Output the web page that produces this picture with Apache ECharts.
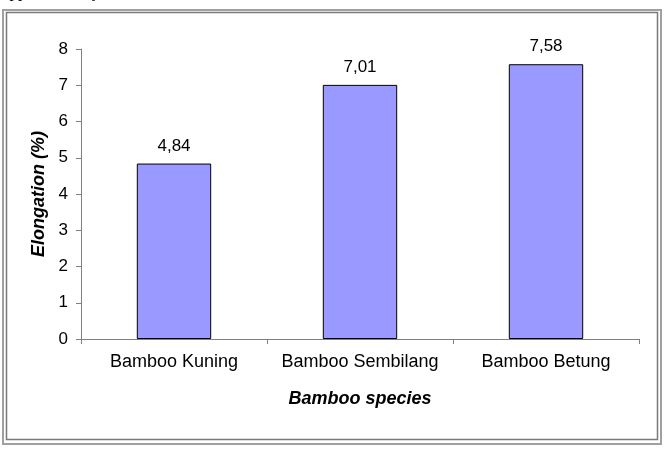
<!DOCTYPE html>
<html>
<head>
<meta charset="utf-8">
<script src="https://cdn.jsdelivr.net/npm/echarts@6/dist/echarts.min.js"></script>
<style>
html,body{margin:0;padding:0;background:#fff;}
#c{width:664px;height:450px;}
</style>
</head>
<body>
<div id="c"></div>
<script>
var categories = ['Bamboo Kuning', 'Bamboo Sembilang', 'Bamboo Betung'];
var elongation = [4.84, 7.01, 7.58];
var yTicks = [0, 1, 2, 3, 4, 5, 6, 7, 8];

var chart = echarts.init(document.getElementById('c'), null, {renderer: 'canvas'});
var font = 'Arial, "Liberation Sans", sans-serif';
chart.setOption({
  animation: false,
  backgroundColor: '#fff',
  grid: {left: 81, right: 25, top: 49, bottom: 111, containLabel: false},
  xAxis: {
    type: 'category',
    data: categories,
    name: 'Bamboo species',
    nameLocation: 'middle',
    nameGap: 51,
    nameTextStyle: {fontFamily: font, fontSize: 18, fontWeight: 'bold', fontStyle: 'italic', color: '#000'},
    axisLine: {lineStyle: {color: '#808080', width: 1}},
    axisTick: {show: true, length: 5, inside: false, alignWithLabel: false, lineStyle: {color: '#808080'}},
    axisLabel: {fontFamily: font, fontSize: 18, color: '#000', margin: 14, interval: 0},
    splitLine: {show: false}
  },
  yAxis: {
    type: 'value',
    min: yTicks[0],
    max: yTicks[yTicks.length - 1],
    interval: 1,
    name: 'Elongation (%)',
    nameLocation: 'middle',
    nameGap: 32,
    nameTextStyle: {fontFamily: font, fontSize: 18, fontWeight: 'bold', fontStyle: 'italic', color: '#000'},
    axisLine: {show: true, lineStyle: {color: '#808080', width: 1}},
    axisTick: {show: true, length: 5, lineStyle: {color: '#808080'}},
    axisLabel: {fontFamily: font, fontSize: 17, color: '#000', margin: 13},
    splitLine: {show: false}
  },
  series: [{
    type: 'bar',
    data: elongation,
    barCategoryGap: '60%',
    itemStyle: {color: '#9999ff', borderColor: '#000', borderWidth: 1},
    label: {
      show: true,
      position: 'top',
      distance: 9,
      fontFamily: font,
      fontSize: 17,
      color: '#000',
      formatter: function (p) { return p.value.toFixed(2).replace('.', ','); }
    }
  }],
  graphic: [
    {type: 'rect', shape: {x: 3, y: 10, width: 658, height: 434}, style: {fill: 'none', stroke: '#a0a0a0', lineWidth: 2}, silent: true},
    {type: 'rect', shape: {x: 6.5, y: 12.5, width: 651, height: 427}, style: {fill: 'none', stroke: '#7a7a7a', lineWidth: 1.5}, silent: true},
    {type: 'text', left: 2, top: -16, style: {text: 'approximately  4,84%.', font: '17px "Liberation Serif", "Times New Roman", serif', fill: '#000'}, silent: true}
  ]
});
</script>
</body>
</html>
